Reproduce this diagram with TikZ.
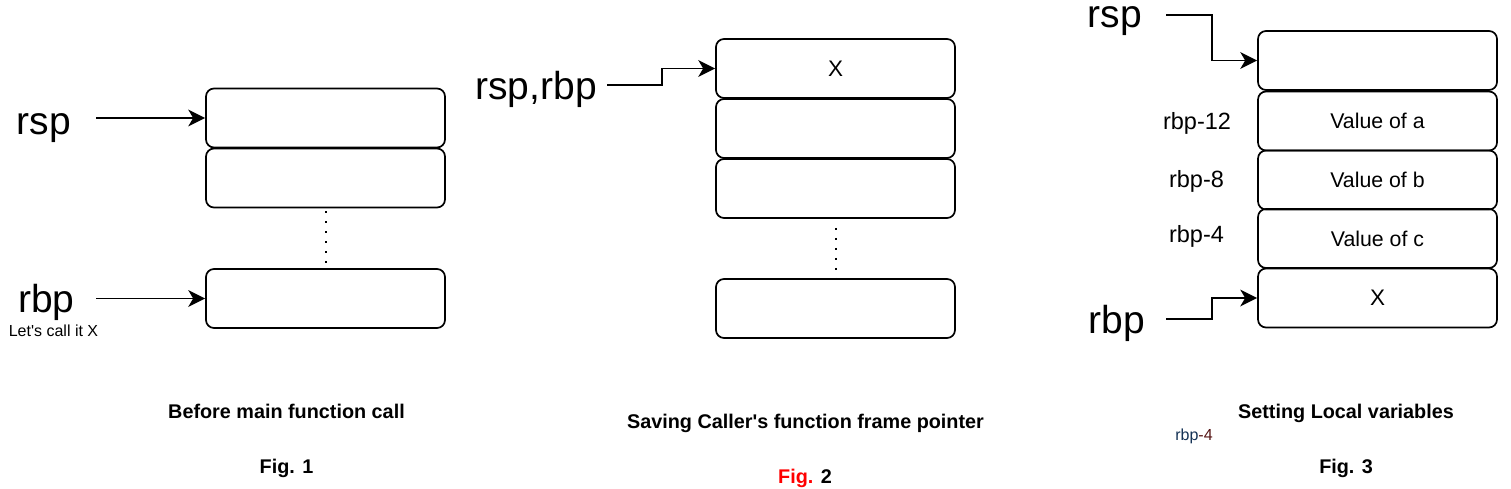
\documentclass[tikz,border=0pt]{standalone}
\usepackage{fontspec}
\setmainfont{Liberation Sans}
\usetikzlibrary{arrows.meta}
\definecolor{smallblue}{RGB}{20,50,85}
\definecolor{smallred}{RGB}{85,20,20}
\tikzset{
  cell/.style={draw, line width=1.7pt, rounded corners=8pt, minimum width=239pt, minimum height=59pt, inner sep=0pt, font=\fontsize{21.3}{25}\selectfont},
  xcell/.style={cell, font=\fontsize{22.5}{26}\selectfont},
  biglbl/.style={anchor=base, inner sep=0pt, font=\fontsize{39}{46}\selectfont},
  offlbl/.style={anchor=base, inner sep=0pt, font=\fontsize{23.5}{28}\selectfont},
  caption/.style={anchor=base, inner sep=0pt, font=\bfseries\fontsize{19.8}{24}\selectfont},
  note/.style={anchor=base, inner sep=0pt, font=\fontsize{16}{19}\selectfont},
  arr/.style={line width=1.7pt, -{Stealth[length=17pt, width=17pt, inset=5pt, line width=0pt]}},
  dots/.style={line width=2pt, dash pattern=on 2pt off 8pt}
}
\begin{document}
\begin{tikzpicture}[x=1pt, y=-1pt]
\useasboundingbox (0,0) rectangle (1511,489);

% ---------- Fig. 1 ----------
\node[cell] (f1a) at (325.5,118) {};
\node[cell] (f1b) at (325.5,178) {};
\node[cell] (f1c) at (325.5,298.5) {};
\draw[dots] (f1b.south) ++(0,3) coordinate (d1s) -- (f1c.north);
\node[biglbl] (rsp1) at (44,135) {rsp};
\node[biglbl] (rbp1) at (46.5,312) {rbp};
\node[note] (callx) at (53.5,336) {Let\textquotesingle s call it X};
\coordinate (s1) at (96,118);
\coordinate (s1b) at (96,298.5);
\draw[arr] (s1) -- (f1a.west);
\draw[arr] (s1b) -- (f1c.west);
\node[caption] (cap1) at (286.5,418) {Before main function call};
\node[caption] (fig1) at (286.5,473) {Fig. 1};

% ---------- Fig. 2 ----------
\node[xcell] (f2a) at (835.5,68.5) {X};
\node[cell] (f2b) at (835.5,128.5) {};
\node[cell] (f2c) at (835.5,188.5) {};
\node[cell] (f2d) at (835.5,308.5) {};
\draw[dots] (f2c.south) ++(0,9) coordinate (d2s) -- (f2d.north);
\node[biglbl] (rsprbp) at (536,100) {rsp,rbp};
\coordinate (s2) at (607,85);
\draw[arr] (s2) -- ++(55,0) |- (f2a.west);
\node[caption] (cap2) at (805.5,428) {Saving Caller\textquotesingle s function frame pointer};
\node[caption] (fig2) at (805,483) {\textcolor{red}{Fig.} 2};

% ---------- Fig. 3 ----------
\node[cell] (f3a) at (1377.5,60.5) {};
\node[cell] (f3b) at (1377.5,121) {Value of a};
\node[cell] (f3c) at (1377.5,180) {Value of b};
\node[cell] (f3d) at (1377.5,238.5) {Value of c};
\node[xcell] (f3x) at (1377.5,298) {X};
\node[offlbl] (o12) at (1197,130) {rbp-12};
\node[offlbl] (o8) at (1196.5,188) {rbp-8};
\node[offlbl] (o4) at (1196.5,242) {rbp-4};
\node[biglbl] (rsp3) at (1115,28) {rsp};
\node[biglbl] (rbp3) at (1117,333) {rbp};
\coordinate (s3) at (1166,15);
\coordinate (s4) at (1166,319);
\draw[arr] (s3) -- ++(46,0) |- (f3a.west);
\draw[arr] (s4) -- ++(46,0) |- (f3x.west);
\node[caption] (cap3) at (1346,418) {Setting Local variables};
\node[note] (small4) at (1194,440) {\textcolor{smallblue}{rbp}\textcolor{smallred}{-4}};
\node[caption] (fig3) at (1346,473) {Fig. 3};
\end{tikzpicture}
\end{document}
